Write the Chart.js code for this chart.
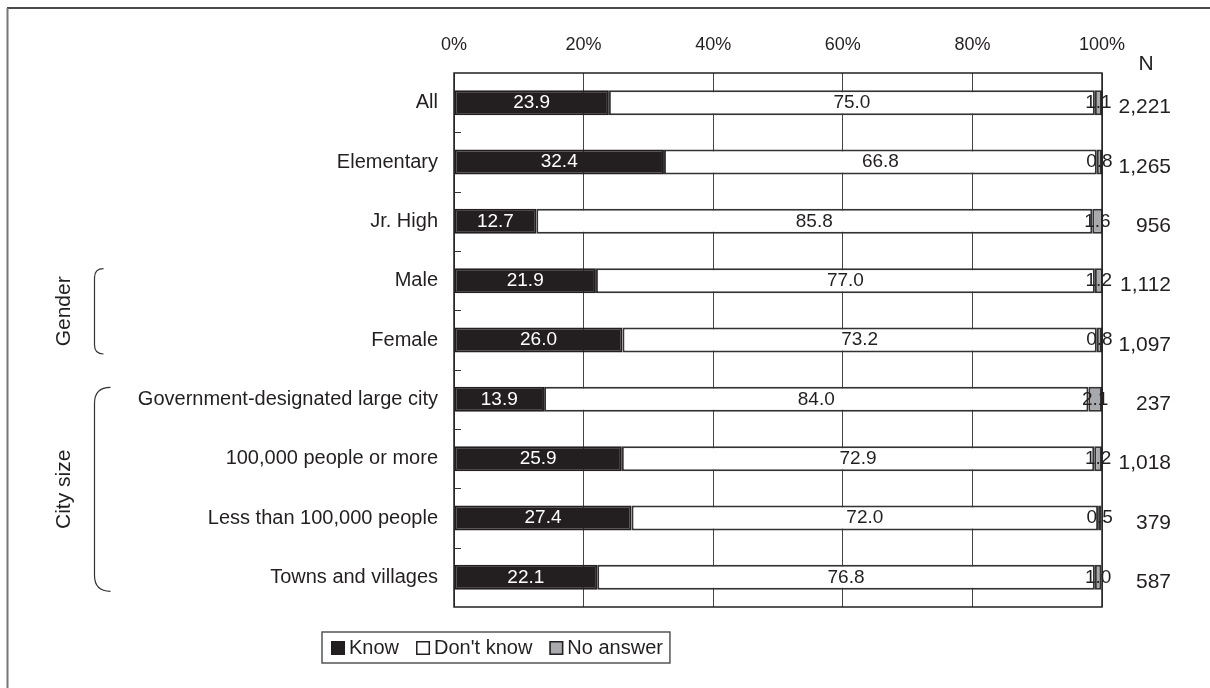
<!DOCTYPE html>
<html>
<head>
<meta charset="utf-8">
<script src="https://cdn.jsdelivr.net/npm/chart.js@4"></script>
<style>
  html, body { margin: 0; padding: 0; background: #ffffff; }
  #wrap { position: relative; width: 1210px; height: 688px; }
</style>
</head>
<body>
<div id="wrap"><canvas id="chart"></canvas></div>
<script>
// Survey respondents who know / don't know, by school level, gender and city size (%)
const categories = [
  'All',
  'Elementary',
  'Jr. High',
  'Male',
  'Female',
  'Government-designated large city',
  '100,000 people or more',
  'Less than 100,000 people',
  'Towns and villages'
];
const knowValues     = [23.9, 32.4, 12.7, 21.9, 26.0, 13.9, 25.9, 27.4, 22.1];
const dontKnowValues = [75.0, 66.8, 85.8, 77.0, 73.2, 84.0, 72.9, 72.0, 76.8];
const noAnswerValues = [1.1, 0.8, 1.6, 1.2, 0.8, 2.1, 1.2, 0.5, 1.0];
const sampleSizes    = ['2,221', '1,265', '956', '1,112', '1,097', '237', '1,018', '379', '587'];
const seriesNames    = ['Know', "Don't know", 'No answer'];
const percentTicks   = [0, 20, 40, 60, 80, 100];
const groupNames     = ['Gender', 'City size'];
const groupFirstRow  = [3, 5];
const groupLastRow   = [4, 8];

const INK = '#231f20';
const FONT = '"Liberation Sans", Arial, Helvetica, sans-serif';
const SERIES_FILL   = ['#231f20', '#ffffff', '#a7a9ac'];
const SERIES_BORDER = ['#231f20', '#333333', '#333333'];
const LABEL_COLOR   = ['#ffffff', INK, INK];

const overlay = {
  id: 'overlay',
  beforeDraw(chart) {
    const ctx = chart.ctx;
    ctx.save();
    // outer frame (top and left edges)
    ctx.lineWidth = 2;
    ctx.strokeStyle = '#4a4a4a';
    ctx.beginPath(); ctx.moveTo(7, 8); ctx.lineTo(chart.width, 8); ctx.stroke();
    ctx.strokeStyle = '#777777';
    ctx.beginPath(); ctx.moveTo(7.5, 8); ctx.lineTo(7.5, chart.height); ctx.stroke();
    ctx.restore();
  },
  afterDatasetsDraw(chart) {
    const { ctx, chartArea: a, scales: { y } } = chart;
    ctx.save();

    // plot frame
    ctx.strokeStyle = INK;
    ctx.lineWidth = 1.5;
    ctx.strokeRect(a.left, a.top, a.right - a.left, a.bottom - a.top);

    // short inward ticks between rows
    const step = y.getPixelForValue(1) - y.getPixelForValue(0);
    ctx.lineWidth = 1;
    ctx.strokeStyle = '#333333';
    for (let i = 0; i < categories.length - 1; i++) {
      const yy = Math.round(y.getPixelForValue(i) + step / 2) + 0.5;
      ctx.beginPath(); ctx.moveTo(a.left, yy); ctx.lineTo(a.left + 7, yy); ctx.stroke();
    }

    // value labels on each segment
    ctx.font = '19px ' + FONT;
    ctx.textAlign = 'center';
    ctx.textBaseline = 'middle';
    chart.data.datasets.forEach((ds, d) => {
      const meta = chart.getDatasetMeta(d);
      ctx.fillStyle = LABEL_COLOR[d];
      meta.data.forEach((el, i) => {
        const cx = (el.x + el.base) / 2;
        ctx.fillText(ds.data[i].toFixed(1), cx, el.y);
      });
    });

    // sample size column
    ctx.fillStyle = INK;
    ctx.font = '21px ' + FONT;
    ctx.textAlign = 'center';
    ctx.fillText('N', a.right + 44, a.top - 9);
    ctx.textAlign = 'right';
    sampleSizes.forEach((n, i) => {
      ctx.fillText(n, a.right + 69, y.getPixelForValue(i) + 5);
    });

    // group brackets and rotated group names
    ctx.strokeStyle = '#333333';
    ctx.lineWidth = 1.2;
    groupNames.forEach((name, g) => {
      const top = y.getPixelForValue(groupFirstRow[g]) - 12;
      const bot = y.getPixelForValue(groupLastRow[g]) + 14;
      const bx = 94.5;
      const r = (bot - top) > 120 ? 16 : 9;
      ctx.beginPath();
      ctx.moveTo(bx + r, top);
      ctx.quadraticCurveTo(bx, top, bx, top + r);
      ctx.lineTo(bx, bot - r);
      ctx.quadraticCurveTo(bx, bot, bx + r, bot);
      ctx.stroke();

      ctx.save();
      ctx.translate(64, (top + bot) / 2);
      ctx.rotate(-Math.PI / 2);
      ctx.fillStyle = INK;
      ctx.font = '21px ' + FONT;
      ctx.textAlign = 'center';
      ctx.textBaseline = 'middle';
      ctx.fillText(name, 0, 0);
      ctx.restore();
    });
    ctx.restore();
  },
  afterDraw(chart) {
    // boxed legend below the plot
    const ctx = chart.ctx;
    ctx.save();
    ctx.font = '20px ' + FONT;
    ctx.textBaseline = 'middle';
    ctx.textAlign = 'left';
    const boxX = 322, boxY = 632, boxH = 31, sw = 14;
    let x = boxX + 9;
    const cy = boxY + boxH / 2 + 0.5;
    chart.data.datasets.forEach((ds, d) => {
      ctx.fillStyle = SERIES_FILL[d];
      ctx.fillRect(x, cy - sw / 2, sw, sw);
      ctx.strokeStyle = INK;
      ctx.lineWidth = 1.5;
      ctx.strokeRect(x + 0.75, cy - sw / 2 + 0.75, sw - 1.5, sw - 1.5);
      x += sw + 4;
      ctx.fillStyle = INK;
      ctx.fillText(ds.label, x, cy);
      x += ctx.measureText(ds.label).width + (d < chart.data.datasets.length - 1 ? 17 : 7);
    });
    ctx.strokeStyle = '#555555';
    ctx.lineWidth = 1.5;
    ctx.strokeRect(boxX, boxY, x - boxX, boxH);
    ctx.restore();
  }
};

const valueSeries = [knowValues, dontKnowValues, noAnswerValues];

new Chart(document.getElementById('chart'), {
  type: 'bar',
  data: {
    labels: categories,
    datasets: valueSeries.map((vals, d) => ({
      label: seriesNames[d],
      data: vals,
      backgroundColor: SERIES_FILL[d],
      borderColor: SERIES_BORDER[d],
      borderWidth: 2,
      borderSkipped: false,
      categoryPercentage: 1,
      barPercentage: 0.42
    }))
  },
  options: {
    indexAxis: 'y',
    responsive: true,
    maintainAspectRatio: false,
    animation: false,
    devicePixelRatio: 1,
    layout: { padding: { left: 0, top: 0, right: 108, bottom: 81 } },
    plugins: {
      legend: { display: false },
      tooltip: { enabled: false }
    },
    scales: {
      x: {
        position: 'top',
        stacked: true,
        min: 0,
        max: 100,
        afterBuildTicks(scale) { scale.ticks = percentTicks.map(v => ({ value: v })); },
        afterFit(scale) { scale.height = 73; },
        ticks: {
          callback: v => v + '%',
          color: INK,
          font: { family: FONT, size: 18 },
          padding: 17,
          maxRotation: 0
        },
        grid: { color: '#444444', lineWidth: 1, drawTicks: false },
        border: { display: false }
      },
      y: {
        stacked: true,
        afterFit(scale) { scale.width = 454; },
        ticks: {
          color: INK,
          font: { family: FONT, size: 20 },
          padding: 16
        },
        grid: { display: false, drawTicks: false },
        border: { display: false }
      }
    }
  },
  plugins: [overlay]
});
</script>
</body>
</html>
